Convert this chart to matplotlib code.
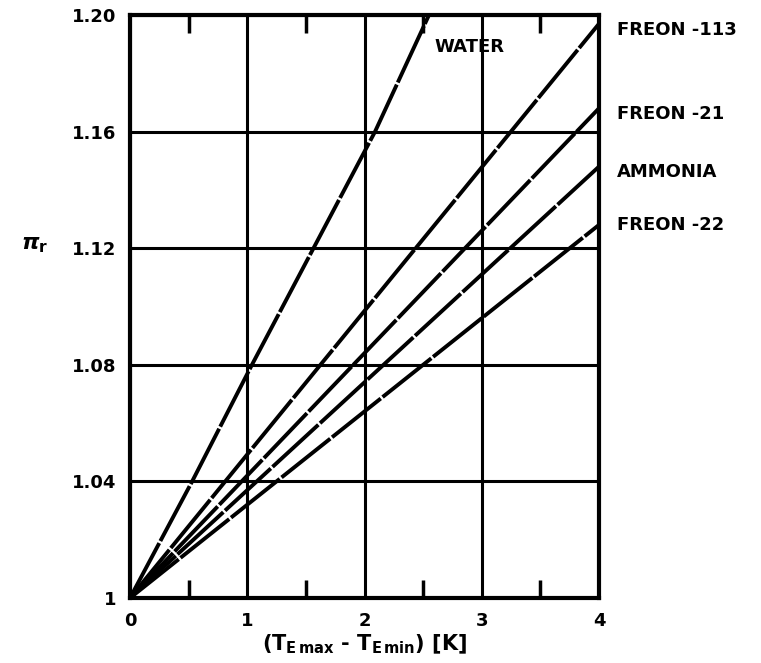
import matplotlib.pyplot as plt

# pi_r vs temperature difference, all lines start at (0, 1)
water_x = [0, 0.53, 1.04, 2.09, 2.55]
water_y = [1.0, 1.04, 1.08, 1.16, 1.20]

fluids = ["FREON -113", "FREON -21", "AMMONIA", "FREON -22"]
fluid_y_end = [1.197, 1.168, 1.148, 1.128]

label_y = [1.195, 1.166, 1.146, 1.128]
x_ticks = [0, 1, 2, 3, 4]
y_ticks = [1.0, 1.04, 1.08, 1.12, 1.16, 1.20]
y_ticklabels = ["1", "1.04", "1.08", "1.12", "1.16", "1.20"]

fig = plt.figure(figsize=(7.61, 6.63), dpi=100)
ax = fig.add_axes([130 / 761, 65 / 663, 469 / 761, 583 / 663])

line_style = dict(color="black", linewidth=2.8, linestyle=(0, (16, 0.6)),
                  solid_capstyle="butt")
ax.plot(water_x, water_y, **line_style)
for ye in fluid_y_end:
    ax.plot([0, 4], [1.0, ye], **line_style)

ax.set_xlim(0, 4)
ax.set_ylim(1.0, 1.20)
ax.set_xticks(x_ticks)
ax.set_yticks(y_ticks)
ax.set_yticklabels(y_ticklabels)
ax.set_xticks([0.5, 1.5, 2.5, 3.5], minor=True)

ax.grid(True, which="major", color="black", linewidth=2.2)
for s in ax.spines.values():
    s.set_linewidth(3)

ax.tick_params(which="major", length=0, pad=10, labelsize=13)
ax.tick_params(which="minor", direction="in", length=13, width=2.5,
               top=True, bottom=True)
for lab in ax.get_xticklabels() + ax.get_yticklabels():
    lab.set_fontweight("bold")

ax.text(2.6, 1.189, "WATER", fontsize=13, fontweight="bold", va="center")
for name, ly in zip(fluids, label_y):
    ax.text(4.15, ly, name, fontsize=13, fontweight="bold", va="center",
            clip_on=False)

ax.set_xlabel(r"($\mathbf{T_{E\,max}}$ - $\mathbf{T_{E\,min}}$) [K]",
              fontsize=15, fontweight="bold", labelpad=2)
fig.text(35 / 761, 1 - 245 / 663, r"$\boldsymbol{\pi}_\mathbf{r}$", fontsize=16,
         ha="center", va="center")

fig.savefig("out.png", dpi=100)
